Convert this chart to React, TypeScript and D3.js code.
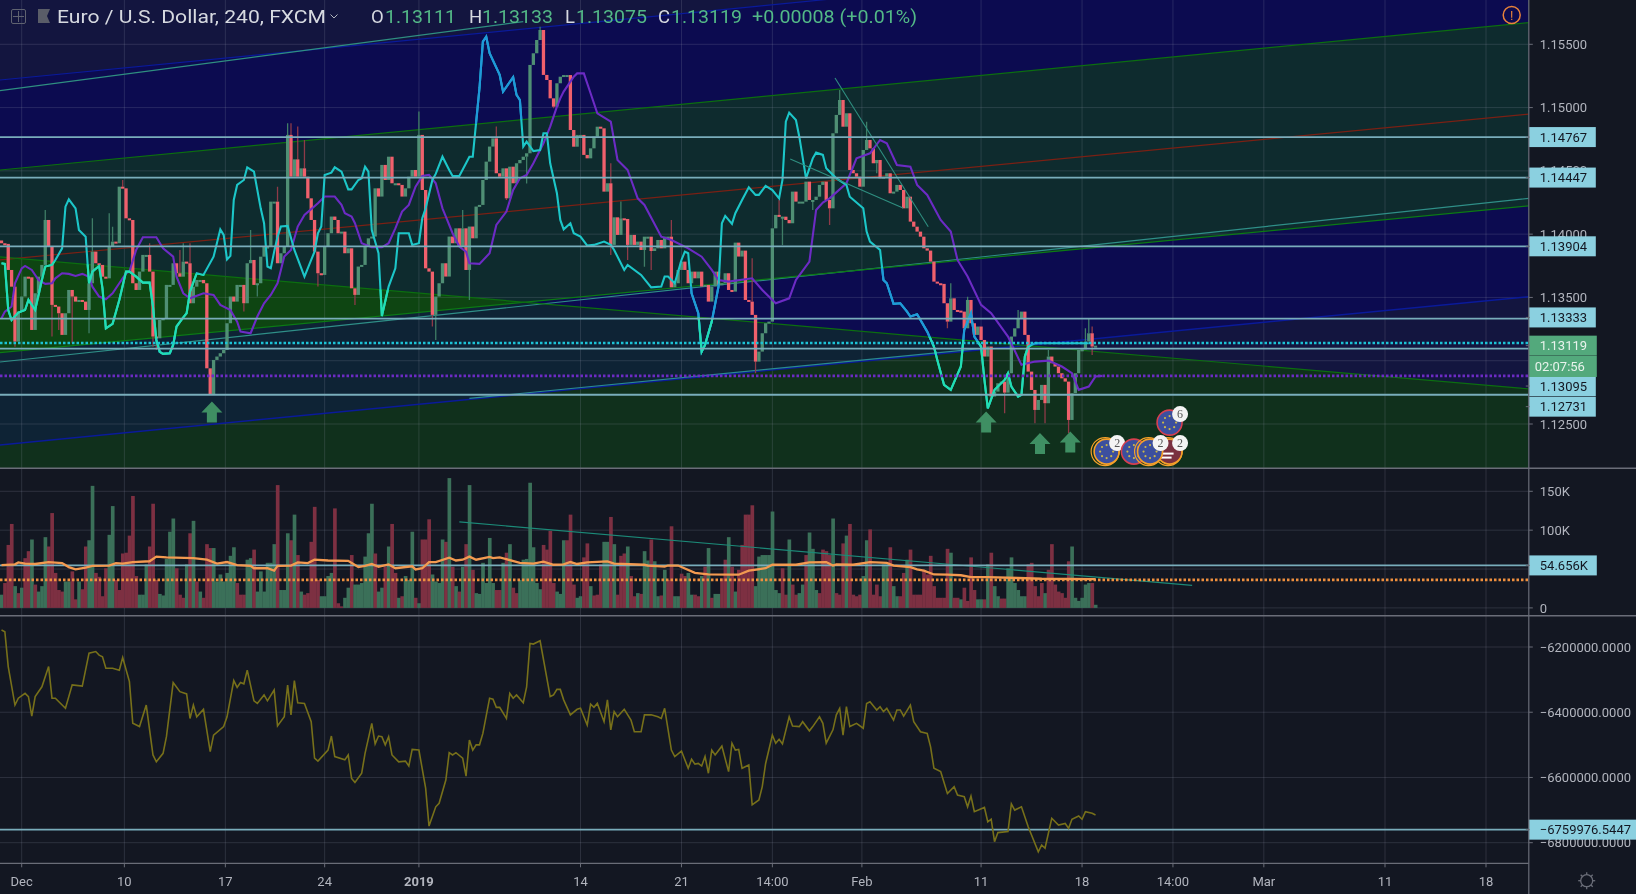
import React from 'react';
import * as d3 from 'd3';

// 4h closes, one per bar (open = previous close)
const closes = [
  1.13928,1.13923,1.13717,1.13585,1.13151,1.13388,1.13507,1.13664,1.13659,1.13243,
  1.13533,1.13664,1.13757,1.14112,1.13902,1.13441,1.13428,1.13375,1.13204,1.13375,
  1.13559,1.13507,1.13467,1.1348,1.13467,1.13401,1.13612,1.13862,1.1377,1.13757,
  1.13664,1.13651,1.13902,1.13941,1.13928,1.14375,1.14362,1.14125,1.14112,1.13612,
  1.13559,1.13704,1.13836,1.13836,1.13704,1.13191,1.13177,1.13322,1.13335,1.13599,
  1.13599,1.1377,1.13691,1.13664,1.13783,1.1377,1.13454,1.13585,1.13638,1.13638,
  1.13612,1.1294,1.1273,1.13006,1.13033,1.13059,1.13085,1.13296,1.13507,1.13467,
  1.13599,1.13599,1.13454,1.1377,1.13796,1.13599,1.13612,1.13822,1.13902,1.13902,
  1.14257,1.14257,1.1377,1.13849,1.13902,1.14784,1.14454,1.14591,1.14454,1.1452,
  1.14454,1.14283,1.14112,1.13862,1.13691,1.13678,1.13902,1.14007,1.14139,1.14112,
  1.14007,1.1402,1.13849,1.13888,1.13572,1.1352,1.13744,1.13757,1.13902,1.13967,
  1.13981,1.14362,1.14297,1.14547,1.14428,1.14612,1.14402,1.14402,1.14389,1.14297,
  1.14362,1.14454,1.14507,1.14454,1.14784,1.14349,1.1373,1.13704,1.13362,1.13507,
  1.13612,1.1377,1.13665,1.13981,1.13928,1.14046,1.13902,1.14046,1.13717,1.1406,
  1.13967,1.14218,1.14231,1.14428,1.14573,1.14692,1.14757,1.14481,1.14454,1.1452,
  1.14283,1.14533,1.14402,1.1456,1.14586,1.14612,1.14639,1.15337,1.15429,1.15534,
  1.15613,1.15258,1.15218,1.15073,1.15007,1.15192,1.15244,1.15257,1.15257,1.14823,
  1.14691,1.14784,1.14784,1.14626,1.14599,1.14678,1.1477,1.14849,1.14836,1.14336,
  1.14402,1.13915,1.14133,1.13994,1.14125,1.1412,1.13915,1.13994,1.13915,1.13941,
  1.13875,1.1398,1.1398,1.13867,1.13888,1.13954,1.13888,1.1398,1.1398,1.1358,
  1.13612,1.13717,1.13783,1.13717,1.13612,1.13704,1.13651,1.13704,1.13586,1.13599,
  1.13467,1.13586,1.13704,1.13599,1.13612,1.13691,1.13559,1.13546,1.13933,1.13823,
  1.1387,1.1348,1.13467,1.13362,1.12993,1.13072,1.13217,1.13296,1.13309,1.14046,
  1.14152,1.14138,1.14138,1.14112,1.14086,1.14336,1.14257,1.14257,1.14257,1.14415,
  1.1427,1.1427,1.14296,1.14389,1.14415,1.1427,1.14204,1.14797,1.14942,1.1506,
  1.14849,1.14955,1.14507,1.14481,1.14454,1.14375,1.14665,1.14744,1.14678,1.1456,
  1.14586,1.14441,1.14454,1.14481,1.14323,1.14336,1.14389,1.14349,1.14204,1.14296,
  1.14099,1.14059,1.1402,1.1398,1.13888,1.1387,1.13783,1.13625,1.13612,1.13607,
  1.13454,1.13309,1.13493,1.13401,1.13396,1.13388,1.13256,1.1348,1.13296,1.13204,
  1.1327,1.13164,1.13033,1.13112,1.12717,1.12756,1.12822,1.12835,1.12748,1.12901,
  1.13191,1.13256,1.13335,1.13388,1.13204,1.12914,1.12769,1.12611,1.1269,1.12809,
  1.12664,1.13033,1.1298,1.12954,1.12901,1.12861,1.12835,1.12532,1.12743,1.12901,
  1.13085,1.1309,1.13151,1.13217,1.13112,1.13119,
];
const firstOpen = 1.1395;

const wickHighs = [
  [13,1.14191],[27,1.14125],[32,1.14165],[33,1.14059],[36,1.14428],[44,1.13928],[53,1.13875],[54,1.13928],
  [56,1.13928],[74,1.14033],[82,1.14375],[85,1.14876],[86,1.14876],[88,1.1485],[90,1.14744],[124,1.1497],
  [137,1.14191],[147,1.1485],[160,1.15639],[181,1.1456],[184,1.14257],[199,1.14112],[223,1.13809],[231,1.1427],
  [249,1.15139],[257,1.14889],[282,1.13612],[287,1.13506],[302,1.134],[311,1.13085],[322,1.13256],[323,1.13335],[324,1.1327],
];
const wickLows = [
  [4,1.13111],[15,1.13191],[17,1.13243],[21,1.13138],[26,1.13217],[45,1.13111],[46,1.13085],[72,1.13388],
  [76,1.13507],[94,1.13586],[105,1.13441],[128,1.1327],[129,1.13164],[139,1.1348],[150,1.1427],[156,1.144],
  [164,1.14994],[181,1.13836],[186,1.13796],[191,1.13743],[193,1.13717],[224,1.12901],[232,1.13915],[241,1.14191],
  [246,1.14073],[260,1.14481],[281,1.13256],[294,1.1269],[298,1.12585],[307,1.12506],[310,1.12506],[317,1.12427],[324,1.13046],
];

const cyanLine = [
  [0,1.1377],[1,1.13765],[2,1.13401],[3,1.13322],[5,1.1338],[7,1.13401],[8,1.1348],[10,1.13401],[12,1.13638],[13,1.13744],
  [15,1.13757],[16,1.13796],[18,1.13888],[19,1.14217],[20,1.14275],[22,1.14204],[23,1.14033],[25,1.1398],[26,1.13612],[27,1.13704],
  [29,1.13749],[30,1.13572],[31,1.13256],[33,1.13291],[35,1.1348],[37,1.13704],[38,1.13704],[40,1.13664],[42,1.13617],[44,1.13617],
  [45,1.13428],[46,1.13164],[47,1.1307],[48,1.13054],[50,1.13059],[51,1.13125],[52,1.1327],[54,1.13343],[55,1.13375],[56,1.13546],
  [58,1.13691],[60,1.13678],[63,1.13822],[65,1.14038],[66,1.13994],[67,1.138],[68,1.13828],[69,1.1427],[70,1.14389],[72,1.14428],
  [73,1.14528],[75,1.14494],[77,1.14204],[78,1.14086],[79,1.13744],[80,1.13731],[81,1.13862],[82,1.1398],[83,1.1406],[85,1.14065],
  [87,1.13875],[90,1.13665],[92,1.13796],[93,1.13862],[94,1.14007],[95,1.1406],[96,1.14468],[98,1.14486],[99,1.14528],[101,1.14494],
  [103,1.14354],[104,1.14354],[106,1.14428],[107,1.14441],[108,1.14533],[109,1.14494],[110,1.14033],[112,1.13849],[113,1.13354],[115,1.13586],
  [117,1.1373],[118,1.14007],[121,1.14007],[122,1.13915],[124,1.13928],[125,1.14125],[126,1.14204],[128,1.14428],[129,1.14476],[131,1.14612],
  [133,1.14507],[134,1.1446],[136,1.1446],[138,1.1456],[139,1.14612],[140,1.14612],[142,1.15155],[143,1.15521],[144,1.1556],[145,1.15429],
  [148,1.15258],[149,1.15126],[152,1.1524],[153,1.151],[154,1.1506],[155,1.14691],[156,1.14731],[158,1.14657],[160,1.14665],[161,1.14797],
  [162,1.14797],[163,1.1456],[165,1.14323],[166,1.14112],[167,1.14038],[169,1.14086],[170,1.14007],[172,1.1398],[174,1.13909],[176,1.13915],
  [179,1.13941],[181,1.13915],[182,1.13875],[185,1.13717],[186,1.13757],[190,1.13678],[193,1.1358],[196,1.13586],[197,1.13665],[198,1.13665],
  [200,1.13612],[202,1.13796],[203,1.13862],[204,1.13849],[205,1.13533],[207,1.13375],[208,1.13072],[209,1.13125],[211,1.13309],[213,1.13586],
  [214,1.14086],[215,1.14144],[217,1.14081],[218,1.14165],[220,1.1427],[222,1.1437],[224,1.1431],[225,1.1431],[227,1.14381],[229,1.14349],
  [231,1.14283],[232,1.14428],[233,1.14889],[234,1.1496],[236,1.14902],[237,1.1477],[239,1.14441],[241,1.14599],[242,1.14644],[244,1.14626],
  [245,1.1452],[248,1.14441],[251,1.14389],[252,1.14296],[256,1.14204],[257,1.1402],[258,1.13941],[261,1.13875],[262,1.13638],[263,1.13612],
  [265,1.13449],[267,1.13454],[269,1.13388],[270,1.13349],[272,1.13367],[275,1.1323],[277,1.13112],[278,1.13006],[280,1.1281],[282,1.1277],
  [285,1.12954],[286,1.13243],[288,1.13375],[289,1.13191],[291,1.13112],[292,1.12848],[293,1.12624],[294,1.12696],[295,1.1277],[298,1.12848],
  [299,1.12901],[300,1.12796],[302,1.12717],[303,1.1273],[304,1.13033],[305,1.13112],[307,1.13138],[323,1.13138],
];

const purpleLine = [
  [0,1.13335],[1,1.13388],[3,1.13428],[4,1.13612],[6,1.1373],[7,1.13749],[9,1.13717],[11,1.13638],[13,1.13607],[15,1.13612],
  [16,1.13651],[18,1.13691],[20,1.13686],[22,1.1367],[24,1.13686],[26,1.13664],[27,1.13585],[29,1.13507],[31,1.13486],[33,1.13533],
  [35,1.13612],[37,1.13691],[38,1.13704],[40,1.13875],[42,1.13975],[46,1.13975],[48,1.13888],[51,1.13822],[52,1.13664],[54,1.13533],
  [56,1.13493],[60,1.13533],[63,1.1352],[65,1.13441],[68,1.13401],[70,1.13309],[71,1.1323],[74,1.13217],[76,1.13349],[78,1.13454],
  [80,1.1352],[82,1.13612],[83,1.13717],[84,1.13823],[86,1.13875],[88,1.1406],[90,1.14152],[94,1.14244],[96,1.14297],[99,1.14297],
  [101,1.14231],[102,1.14165],[104,1.14139],[105,1.14086],[107,1.13928],[110,1.13896],[113,1.13896],[115,1.13928],[117,1.14046],[119,1.14178],
  [121,1.14231],[123,1.14375],[125,1.1446],[127,1.14468],[129,1.14402],[131,1.14204],[132,1.14139],[134,1.14007],[136,1.13902],[138,1.13862],
  [139,1.1377],[142,1.13765],[145,1.13849],[147,1.14073],[150,1.14178],[152,1.14349],[154,1.14441],[156,1.14468],[158,1.1456],[161,1.14718],
  [163,1.14849],[165,1.15007],[166,1.15073],[167,1.15126],[170,1.15244],[171,1.1527],[173,1.1527],[175,1.15113],[177,1.14955],[181,1.14889],
  [183,1.14586],[186,1.14507],[189,1.14283],[191,1.14231],[196,1.1398],[199,1.13954],[204,1.13888],[208,1.13822],[211,1.13717],[213,1.13638],
  [216,1.13625],[223,1.13651],[226,1.13559],[230,1.13454],[234,1.13493],[236,1.13638],[240,1.13783],[242,1.14191],[244,1.14249],[246,1.14283],
  [251,1.14402],[254,1.14599],[258,1.14639],[261,1.14744],[263,1.14718],[266,1.14547],[270,1.14533],[272,1.14389],[275,1.1431],[279,1.14112],
  [282,1.1402],[284,1.13796],[287,1.13665],[291,1.13441],[294,1.13375],[299,1.13191],[303,1.12967],[307,1.12993],[311,1.13001],[315,1.12954],
  [318,1.12901],[320,1.1277],[323,1.12796],[325,1.12875],[327,1.1288],
];

// volume in thousands, direction g/r per bar
const volumes = [
  17,32,81,108,28,19,26,64,73,88,30,21,28,91,79,122,45,23,21,34,
  34,47,11,34,24,79,87,157,45,40,15,51,94,131,36,23,70,71,93,144,
  41,17,17,56,79,134,36,18,16,63,98,115,51,17,13,56,96,112,34,21,
  13,82,77,77,34,43,34,45,67,78,32,17,17,62,64,75,21,47,21,58,
  58,82,158,23,23,96,87,120,68,21,17,19,85,130,36,15,15,41,45,128,
  6,2,13,26,68,30,30,32,66,96,134,70,21,26,53,79,108,45,13,15,
  41,36,98,13,6,88,88,114,43,34,32,88,85,167,53,28,21,53,82,158,
  49,19,18,58,32,90,32,23,23,58,71,82,26,19,36,62,63,161,78,32,
  24,81,75,99,32,21,18,87,87,120,30,13,15,65,83,28,16,17,56,85,
  85,117,82,17,67,70,79,41,15,19,18,73,61,88,60,15,16,49,36,105,
  15,15,44,41,45,17,17,15,41,53,77,13,18,18,38,62,91,53,21,49,
  81,120,120,132,28,66,68,68,68,124,23,19,51,17,88,30,17,19,30,68,
  97,76,23,19,75,73,68,115,19,17,83,93,108,17,15,17,41,87,101,17,
  30,15,56,56,78,28,15,15,45,62,75,17,17,17,49,43,67,28,13,13,
  13,76,71,13,13,11,26,9,65,23,11,11,11,56,71,28,15,12,12,51,
  65,32,23,15,15,56,58,28,15,32,19,49,82,30,21,19,13,60,79,13,
  9,13,30,32,32,4,
];
const volumeDirs =
  'grrrgrgrrg' + 'rgggrrrrrg' + 'grrgrrggrr' + 'rrggrrrrrr' + 'rgggrrrggg' + 'ggrrrgrgrg' + 'rrrggggggg' + 'rrrggrgggg' +
  'ggrgggrgrg' + 'rrrrrggggr' + 'rrggrggggg' + 'grggrgrrgr' + 'gggrgrrrgg' + 'ggrgrgrgrg' + 'rggggggrrg' + 'rgrrgggggg' +
  'grrrrgggrr' + 'rggrrgrrrg' + 'grgrrrgrrg' + 'rggrggrgrr' + 'ggrrggrrgr' + 'grggrrgrgr' + 'rrrrgggggg' + 'ggrrgrrggr' +
  'gggrrrrgrr' + 'rgrrrrggrr' + 'rrggrggrrg' + 'rrrrrrrrrr' + 'rrgrrgrrrr' + 'ggrgrggrrg' + 'gggggrrrrr' + 'grrrrrrrgg' + 'ggggrg';

const volumeMA = [
  [0,55],[4,56],[5,58.5],[7,57],[10,56.5],[14,59],[18,57.6],[20,52.5],[22,49.5],[25,51.7],[27,54],[32,54.5],[34,57.6],[36,57],
  [39,59],[44,60],[46,66],[49,65],[57,64],[61,62],[64,57],[67,59],[70,55],[74,54],[75,51],[79,51],[81,48],[82,54],[86,54.5],
  [88,58.5],[91,57.6],[93,62],[97,61],[103,60.5],[106,52.5],[108,54],[110,56.5],[112,53],[115,56],[117,51],[122,53.5],[123,49.5],
  [125,51],[127,59],[129,59],[133,64.5],[135,61],[137,62],[139,66],[141,62],[145,65.5],[146,64],[148,65],[154,58],[158,57],
  [161,59.6],[164,55.5],[167,56],[169,59],[171,56.5],[174,58.6],[180,59.9],[182,57],[191,55.5],[192,54.5],[197,53],[198,54.5],
  [201,54.5],[206,45],[210,43],[217,42.7],[219,42.7],[222,48],[227,51],[229,55.5],[233,55.5],[236,55.5],[240,58.5],[245,59],
  [247,54.5],[248,56],[253,55.5],[258,59],[263,58],[265,54.5],[270,52.5],[272,49.5],[274,48],[277,43],[281,42.7],[285,42],
  [288,39.7],[293,39.7],[309,37.5],[325,37],
];

// lower pane, values in thousands
const oscillator = [
  [0,-6148],[1,-6153],[2,-6260],[4,-6378],[5,-6357],[7,-6342],[8,-6352],[9,-6412],[10,-6352],[12,-6322],[14,-6260],[15,-6357],[16,-6357],
  [19,-6388],[21,-6316],[24,-6320],[26,-6219],[28,-6214],[29,-6225],[30,-6230],[31,-6265],[33,-6265],[35,-6271],[36,-6232],[38,-6306],
  [39,-6434],[41,-6444],[43,-6378],[45,-6531],[46,-6552],[48,-6526],[49,-6475],[51,-6309],[53,-6337],[55,-6344],[56,-6419],[57,-6378],
  [58,-6414],[60,-6391],[62,-6521],[63,-6470],[66,-6444],[67,-6414],[69,-6303],[70,-6324],[71,-6309],[72,-6313],[73,-6271],[75,-6365],
  [76,-6373],[78,-6347],[79,-6365],[81,-6332],[82,-6442],[84,-6414],[85,-6317],[86,-6408],[87,-6303],[88,-6371],[90,-6373],[92,-6429],
  [93,-6541],[94,-6550],[97,-6516],[98,-6473],[99,-6536],[102,-6546],[103,-6531],[104,-6603],[105,-6615],[107,-6587],[108,-6526],[110,-6434],
  [111,-6497],[112,-6473],[113,-6475],[114,-6500],[115,-6475],[116,-6531],[118,-6552],[120,-6550],[121,-6565],[122,-6514],[124,-6516],
  [126,-6633],[127,-6749],[129,-6690],[130,-6679],[132,-6608],[133,-6524],[134,-6531],[135,-6524],[137,-6541],[138,-6596],[139,-6485],
  [140,-6516],[141,-6500],[142,-6500],[143,-6465],[145,-6357],[146,-6360],[147,-6385],[148,-6385],[150,-6419],[151,-6342],[152,-6357],
  [153,-6347],[155,-6371],[156,-6322],[157,-6189],[158,-6191],[160,-6181],[163,-6352],[164,-6347],[165,-6330],[166,-6330],[167,-6362],
  [169,-6408],[171,-6391],[172,-6388],[174,-6439],[175,-6375],[176,-6385],[177,-6373],[179,-6429],[180,-6362],[181,-6454],[182,-6398],
  [183,-6414],[185,-6391],[187,-6424],[188,-6460],[190,-6460],[191,-6408],[193,-6408],[195,-6414],[196,-6419],[197,-6388],[199,-6516],
  [200,-6536],[202,-6519],[204,-6572],[205,-6544],[206,-6559],[207,-6557],[208,-6565],[209,-6536],[210,-6587],[211,-6516],[212,-6531],
  [214,-6504],[216,-6582],[217,-6495],[218,-6516],[219,-6514],[220,-6572],[222,-6562],[223,-6684],[225,-6669],[226,-6628],[227,-6557],
  [229,-6470],[230,-6495],[231,-6483],[232,-6497],[234,-6414],[235,-6442],[237,-6444],[238,-6429],[240,-6457],[241,-6444],[243,-6414],
  [244,-6434],[245,-6495],[247,-6454],[248,-6408],[249,-6388],[250,-6470],[251,-6383],[252,-6444],[254,-6434],[256,-6449],[257,-6373],
  [258,-6368],[260,-6393],[261,-6383],[262,-6398],[263,-6388],[265,-6424],[266,-6393],[267,-6393],[268,-6412],[270,-6378],[271,-6429],
  [273,-6460],[275,-6465],[276,-6506],[277,-6572],[279,-6582],[281,-6649],[283,-6628],[284,-6654],[286,-6659],[287,-6690],[288,-6657],
  [289,-6705],[292,-6692],[293,-6736],[294,-6728],[295,-6797],[296,-6769],[299,-6766],[300,-6681],[301,-6700],[303,-6690],[305,-6751],
  [308,-6828],[309,-6807],[310,-6817],[312,-6725],[314,-6746],[316,-6741],[317,-6756],[318,-6728],[320,-6718],[321,-6728],[322,-6705],
  [324,-6710],[325,-6715],
];

// drawn tools: bar0, price0, bar1, price1
const channelTop = [-0.45, 1.15218, 453.7, 1.16395];
const channelTopTeal = [-0.45, 1.15134, 155, 1.15679];
const upperGreen = [-0.45, 1.14507, 453.7, 1.15671];
const midRed = [-0.45, 1.13796, 453.7, 1.14949];
const lowerGreen = [-0.45, 1.13064, 453.7, 1.14223];
const lowerTeal = [-0.45, 1.1299, 453.7, 1.14283];
const lowerBlue = [-0.45, 1.12335, 453.7, 1.13506];
const lowerBlueTeal = [139, 1.12702, 293, 1.13102];
const fallingGreen = [-0.45, 1.1382, 453.7, 1.12777];
const shortTrends = [
  [247.6, 1.15234, 275.3, 1.14059],
  [234.3, 1.14594, 267.8, 1.14207],
];
const volumeTrend = [136, 110.7, 353.7, 29];

const priceTicks = [1.155, 1.15, 1.145, 1.14, 1.135, 1.13, 1.125];
const priceTickLabels = ['1.15500', '1.15000', '1.14500', '1.14000', '1.13500', '', '1.12500'];
const priceLevels = [1.14767, 1.14447, 1.13904, 1.13333, 1.13095, 1.12731];
const levelTags = ['1.14767', '1.14447', '1.13904', '1.13333', '1.13095', '1.12731'];
const levelTagPrices = [1.14767, 1.14447, 1.13904, 1.13342, 1.128, 1.12637];
const cyanLevel = 1.1314;
const purpleLevel = 1.1288;
const volumeTicks = [150, 100, 50, 0];
const volumeTickLabels = ['150K', '100K', '', '0'];
const volumeLevel = 54.656;
const volumeDotted = 36;
const oscTicks = [-6200, -6400, -6600, -6800];
const oscTickLabels = ['\u22126200000.0000', '\u22126400000.0000', '\u22126600000.0000', '\u22126800000.0000'];
const oscLevel = -6759.9765;

const timeTickBars = [6, 36.5, 66.5, 96, 124, 172, 202, 229, 255.6, 291, 321, 348, 375, 411, 441];
const timeTickLabels = ['Dec', '10', '17', '24', '2019', '14', '21', '14:00', 'Feb', '11', '18', '14:00', 'Mar', '11', '18'];

const arrowBars = [62.5, 292.5, 308.5, 317.5];
const arrowPrices = [1.12677, 1.12598, 1.12429, 1.1244];
const eventBars = [347, 328.3, 336.4, 341.2, 347];
const eventPrices = [1.12282, 1.12282, 1.12282, 1.12282, 1.12511];
const eventRings = ['#f5a02a', '#f5a02a', '#d8404f', '#f5a02a', '#d8404f'];
const eventCounts = ['2', '2', '', '2', '6'];

const W = 1636;
const H = 894;
const paneRight = 1528.8;
const mainBottom = 468.3;
const volTop = 468.3;
const volBottom = 615.7;
const oscBottom = 863.3;

const x = d3.scaleLinear().domain([0, 441]).range([1.5, 1486]);
const yPrice = d3.scaleLinear().domain([1.1585, 1.125]).range([0, 424]);
const yVol = d3.scaleLinear().domain([0, 150]).range([607.9, 491.3]);
const yOsc = d3.scaleLinear().domain([-6200, -6800]).range([647, 842.7]);

const priceLine = d3.line<number[]>().x(d => x(d[0])).y(d => yPrice(d[1]));
const volLine = d3.line<number[]>().x(d => x(d[0])).y(d => yVol(d[1]));
const oscLine = d3.line<number[]>().x(d => x(d[0])).y(d => yOsc(d[1]));

const FONT = 'Roboto, "Liberation Sans", sans-serif';
const GRID = 'rgba(150,155,175,0.2)';
const LEVEL = '#79adbb';
const TAG = '#8bd0e0';
const TAG_GREEN = '#53a97c';
const AXIS = '#6a6d78';
const AXIS_TEXT = '#b2b5be';

// polygon between two drawn lines
const band = (a: number[], b: number[]) =>
  `${x(a[0])},${yPrice(a[1])} ${x(a[2])},${yPrice(a[3])} ${x(b[2])},${yPrice(b[3])} ${x(b[0])},${yPrice(b[1])}`;
const belowLine = (a: number[]) =>
  `${x(a[0])},${yPrice(a[1])} ${x(a[2])},${yPrice(a[3])} ${x(a[2])},${mainBottom} ${x(a[0])},${mainBottom}`;

const Bands = ({ base, navy, teal, lower }: { base: string; navy: string; teal: string; lower: string }) => (
  <g>
    <rect x={0} y={0} width={paneRight} height={mainBottom} fill={base} />
    <polygon points={band(channelTop, upperGreen)} fill={navy} />
    <polygon points={band(upperGreen, lowerGreen)} fill={teal} />
    <polygon points={band(lowerGreen, lowerBlue)} fill={lower} />
  </g>
);

const TrendLine = ({ d, stroke, w = 1.2 }: { d: number[]; stroke: string; w?: number }) => (
  <line x1={x(d[0])} y1={yPrice(d[1])} x2={x(d[2])} y2={yPrice(d[3])} stroke={stroke} strokeWidth={w} />
);

const Tag = ({ y, text, fill = TAG, color = '#131722', width = 67 }: any) => (
  <g>
    <rect x={paneRight} y={y - 10} width={width} height={20} fill={fill} />
    <line x1={paneRight - 3} x2={paneRight + 1} y1={y} y2={y} stroke={AXIS} />
    <text x={paneRight + 11} y={y + 4.6} fontSize={13} fill={color}>{text}</text>
  </g>
);

const EventIcon = ({ i }: { i: number }) => {
  const cx = x(eventBars[i]);
  const cy = yPrice(eventPrices[i]);
  const stars = d3.range(8).map(k => (k * Math.PI) / 4);
  const isFlag = i === 0;
  return (
    <g>
      <circle cx={cx} cy={cy} r={12.5} fill={isFlag ? '#7a3040' : '#3c4f9e'} stroke={eventRings[i]} strokeWidth={1.6} />
      {eventRings[i] === '#f5a02a' && <circle cx={cx - 1.5} cy={cy} r={14} fill="none" stroke={eventRings[i]} strokeWidth={1.2} />}
      {!isFlag && stars.map((a, k) => (
        <circle key={k} cx={cx + 6.5 * Math.cos(a)} cy={cy + 6.5 * Math.sin(a)} r={1.1} fill="#c9b64a" />
      ))}
      {isFlag && (
        <g>
          <rect x={cx - 13} y={cy + 1} width={17} height={2} fill="#fff" />
          <rect x={cx - 11} y={cy + 5} width={13} height={2} fill="#fff" />
        </g>
      )}
      {eventCounts[i] && (
        <g>
          <circle cx={cx + 10.5} cy={cy - 8.5} r={8} fill="#f4f4f4" />
          <text x={cx + 10.5} y={cy - 4.3} fontSize={12} textAnchor="middle" fill="#555">{eventCounts[i]}</text>
        </g>
      )}
    </g>
  );
};

export default function App() {
  const opens = closes.map((_, i) => (i === 0 ? firstOpen : closes[i - 1]));
  const bodyW = 3.3;
  const barW = x(1) - x(0);

  const mainLayer = (
    <g clipPath="url(#mainClip)">
      <Bands base="#13153f" navy="#0c0b50" teal="#0e2b2e" lower="#0c0b50" />
      <g clipPath="url(#belowFalling)">
        <Bands base="#10301c" navy="#0c0b50" teal="#0e4512" lower="#0e2335" />
      </g>
      {/* grid */}
      {timeTickBars.map((b, i) => <line key={i} x1={x(b)} x2={x(b)} y1={0} y2={mainBottom} stroke={GRID} />)}
      {priceTicks.map((p, i) => <line key={i} x1={0} x2={paneRight} y1={yPrice(p)} y2={yPrice(p)} stroke={GRID} />)}

      {/* channels */}
      <TrendLine d={channelTop} stroke="#0a1a9a" />
      <TrendLine d={channelTopTeal} stroke="#2f8f80" />
      <TrendLine d={upperGreen} stroke="#0c6e10" />
      <TrendLine d={midRed} stroke="#7a2014" />
      <TrendLine d={lowerTeal} stroke="#2f8f88" />
      <TrendLine d={lowerGreen} stroke="#0c7a14" />
      <TrendLine d={lowerBlue} stroke="#0a1a9a" w={1.5} />
      <TrendLine d={lowerBlueTeal} stroke="#2a8a90" />
      <TrendLine d={fallingGreen} stroke="#0c6e10" />

      {/* candles */}
      {wickHighs.map((w, k) => {
        const i = w[0];
        const up = closes[i] >= opens[i];
        return <line key={k} x1={x(i)} x2={x(i)} y1={yPrice(w[1])} y2={yPrice(Math.max(opens[i], closes[i]))} stroke={up ? '#3f7d66' : '#8e3a48'} strokeWidth={1.3} />;
      })}
      {wickLows.map((w, k) => {
        const i = w[0];
        const up = closes[i] >= opens[i];
        return <line key={k} x1={x(i)} x2={x(i)} y1={yPrice(w[1])} y2={yPrice(Math.min(opens[i], closes[i]))} stroke={up ? '#3f7d66' : '#8e3a48'} strokeWidth={1.3} />;
      })}
      {closes.map((c, i) => {
        const o = opens[i];
        const up = c >= o;
        const top = yPrice(Math.max(o, c));
        const h = Math.max(2, Math.abs(yPrice(o) - yPrice(c)));
        return <rect key={i} x={x(i) - bodyW / 2} y={top} width={bodyW} height={h} fill={up ? '#4f8f74' : '#f0606c'} />;
      })}

      {/* indicators */}
      <path d={priceLine(purpleLine) || ''} fill="none" stroke="#6c2bc4" strokeWidth={2.1} />
      <path d={priceLine(cyanLine) || ''} fill="none" stroke="#1cc6c8" strokeWidth={2.1} />
      <g clipPath="url(#navyClip)">
        <path d={priceLine(cyanLine) || ''} fill="none" stroke="#1f98da" strokeWidth={2.1} />
      </g>
      <g clipPath="url(#belowFalling)">
        <path d={priceLine(cyanLine) || ''} fill="none" stroke="#22dfb2" strokeWidth={2.1} />
      </g>

      {shortTrends.map((d, i) => <TrendLine key={i} d={d} stroke="#2f8f80" w={1.1} />)}

      {/* horizontal levels */}
      {priceLevels.map((p, i) => <line key={i} x1={0} x2={paneRight} y1={yPrice(p)} y2={yPrice(p)} stroke={LEVEL} strokeWidth={1.8} />)}
      <line x1={0} x2={paneRight} y1={yPrice(cyanLevel)} y2={yPrice(cyanLevel)} stroke="#1cc3d6" strokeWidth={2.6} strokeDasharray="2.5 2" />
      <line x1={0} x2={paneRight} y1={yPrice(purpleLevel)} y2={yPrice(purpleLevel)} stroke="#6c2bc4" strokeWidth={2.6} strokeDasharray="2.5 2" />

      {arrowBars.map((b, i) => {
        const cx = x(b);
        const t = yPrice(arrowPrices[i]);
        return <path key={i} d={`M${cx},${t} L${cx + 10.5},${t + 11} L${cx + 5},${t + 11} L${cx + 5},${t + 21} L${cx - 5},${t + 21} L${cx - 5},${t + 11} L${cx - 10.5},${t + 11} Z`} fill="#3f8f63" />;
      })}
      {eventBars.map((_, i) => <EventIcon key={i} i={i} />)}
    </g>
  );

  const volLayer = (
    <g clipPath="url(#volClip)">
      {timeTickBars.map((b, i) => <line key={i} x1={x(b)} x2={x(b)} y1={volTop} y2={volBottom} stroke={GRID} />)}
      {volumeTicks.map((v, i) => <line key={i} x1={0} x2={paneRight} y1={yVol(v)} y2={yVol(v)} stroke={GRID} />)}
      {volumes.map((v, i) => (
        <rect key={i} x={x(i) - barW / 2} y={yVol(v)} width={barW + 0.3} height={yVol(0) - yVol(v)} fill={volumeDirs[i] === 'g' ? '#3b7059' : '#7d3042'} />
      ))}
      <line x1={x(volumeTrend[0])} y1={yVol(volumeTrend[1])} x2={x(volumeTrend[2])} y2={yVol(volumeTrend[3])} stroke="#1c8a78" strokeWidth={1.2} />
      <line x1={0} x2={paneRight} y1={yVol(volumeLevel)} y2={yVol(volumeLevel)} stroke={LEVEL} strokeWidth={1.6} />
      <line x1={0} x2={paneRight} y1={yVol(volumeDotted)} y2={yVol(volumeDotted)} stroke="#f0903e" strokeWidth={2.6} strokeDasharray="2.5 2" />
      <path d={volLine(volumeMA) || ''} fill="none" stroke="#f39a50" strokeWidth={2.3} />
    </g>
  );

  const oscLayer = (
    <g>
      {timeTickBars.map((b, i) => <line key={i} x1={x(b)} x2={x(b)} y1={volBottom} y2={oscBottom} stroke={GRID} />)}
      {oscTicks.map((v, i) => <line key={i} x1={0} x2={paneRight} y1={yOsc(v)} y2={yOsc(v)} stroke={GRID} />)}
      <line x1={0} x2={paneRight} y1={yOsc(oscLevel)} y2={yOsc(oscLevel)} stroke={LEVEL} strokeWidth={1.6} />
      <path d={oscLine(oscillator) || ''} fill="none" stroke="#77701a" strokeWidth={1.6} />
    </g>
  );

  const header = (
    <g fontFamily={FONT} fontSize={18.5}>
      <rect x={11.5} y={9.5} width={14} height={14} rx={1.5} fill="none" stroke="#5f6270" />
      <path d="M18.5 11 V22 M13 16.5 H24" stroke="#5f6270" />
      <path d="M38 9 H50 L47 16 L50 23 H38 Z" fill="#5a5d68" />
      <text x={57} y={22.5} fill="#d6d9e0" textLength={269} lengthAdjust="spacingAndGlyphs">Euro / U.S. Dollar, 240, FXCM</text>
      <path d="M330.5 14.5 L334 18 L337.5 14.5" fill="none" stroke="#b2b5be" />
      <text x={371} y={22.5} fill="#d6d9e0">O</text>
      <text x={385} y={22.5} fill="#53b987" textLength={71} lengthAdjust="spacingAndGlyphs">1.13111</text>
      <text x={469} y={22.5} fill="#d6d9e0">H</text>
      <text x={482} y={22.5} fill="#53b987" textLength={71} lengthAdjust="spacingAndGlyphs">1.13133</text>
      <text x={565} y={22.5} fill="#d6d9e0">L</text>
      <text x={576} y={22.5} fill="#53b987" textLength={71} lengthAdjust="spacingAndGlyphs">1.13075</text>
      <text x={658} y={22.5} fill="#d6d9e0">C</text>
      <text x={671} y={22.5} fill="#53b987" textLength={71} lengthAdjust="spacingAndGlyphs">1.13119</text>
      <text x={752} y={22.5} fill="#53b987" textLength={165} lengthAdjust="spacingAndGlyphs">+0.00008 (+0.01%)</text>
      <circle cx={1511.7} cy={15} r={8.5} fill="none" stroke="#e8833a" strokeWidth={1.5} />
      <text x={1511.7} y={20} fontSize={13} textAnchor="middle" fill="#e8833a">!</text>
    </g>
  );

  const rightAxis = (
    <g fontFamily={FONT} fontSize={13} fill={AXIS_TEXT}>
      <rect x={paneRight} y={0} width={W - paneRight} height={H} fill="#131722" />
      {priceTicks.map((p, i) => (
        <g key={i}>
          <line x1={paneRight} x2={paneRight + 4} y1={yPrice(p)} y2={yPrice(p)} stroke={AXIS} />
          <text x={paneRight + 11} y={yPrice(p) + 4.6}>{priceTickLabels[i]}</text>
        </g>
      ))}
      {levelTags.map((t, i) => <Tag key={i} y={yPrice(levelTagPrices[i])} text={t} />)}
      <Tag y={yPrice(1.13119)} text="1.13119" fill={TAG_GREEN} color="#e8f3ec" width={68} />
      <rect x={paneRight} y={356} width={68} height={21} fill={TAG_GREEN} />
      <text x={paneRight + 6} y={371} fill="#e8f3ec">02:07:56</text>
      {volumeTicks.map((v, i) => (
        <g key={i}>
          <line x1={paneRight} x2={paneRight + 4} y1={yVol(v)} y2={yVol(v)} stroke={AXIS} />
          <text x={paneRight + 11} y={yVol(v) + 4.6}>{volumeTickLabels[i]}</text>
        </g>
      ))}
      <Tag y={yVol(volumeLevel)} text="54.656K" width={68} />
      {oscTicks.map((v, i) => (
        <g key={i}>
          <line x1={paneRight} x2={paneRight + 4} y1={yOsc(v)} y2={yOsc(v)} stroke={AXIS} />
          <text x={paneRight + 11} y={yOsc(v) + 4.6}>{oscTickLabels[i]}</text>
        </g>
      ))}
      <Tag y={yOsc(oscLevel)} text={'\u22126759976.5447'} width={W - paneRight} />
    </g>
  );

  const timeAxis = (
    <g fontFamily={FONT} fontSize={13} fill={AXIS_TEXT} textAnchor="middle">
      {timeTickBars.map((b, i) => (
        <g key={i}>
          <line x1={x(b)} x2={x(b)} y1={oscBottom} y2={oscBottom + 4} stroke={AXIS} />
          <text x={x(b)} y={886} fontWeight={timeTickLabels[i] === '2019' ? 700 : 400}>{timeTickLabels[i]}</text>
        </g>
      ))}
    </g>
  );

  return (
    <svg
      width={W}
      height={H}
      viewBox={`0 0 ${W} ${H}`}
      style={{ position: 'fixed', left: 0, top: 0, background: '#131722', filter: 'blur(0.7px)' }}
    >
      <defs>
        <clipPath id="mainClip"><rect x={0} y={0} width={paneRight} height={mainBottom} /></clipPath>
        <clipPath id="volClip"><rect x={0} y={volTop} width={paneRight} height={volBottom - volTop} /></clipPath>
        <clipPath id="belowFalling"><polygon points={belowLine(fallingGreen)} /></clipPath>
        <clipPath id="navyClip">
          <polygon points={band(channelTop, upperGreen)} />
          <polygon points={band(lowerGreen, lowerBlue)} />
        </clipPath>
      </defs>
      {mainLayer}
      {volLayer}
      {oscLayer}
      {header}
      {rightAxis}
      {timeAxis}
      <line x1={0} x2={W} y1={mainBottom} y2={mainBottom} stroke={AXIS} strokeWidth={1.5} />
      <line x1={0} x2={W} y1={volBottom} y2={volBottom} stroke={AXIS} strokeWidth={1.5} />
      <line x1={0} x2={paneRight} y1={oscBottom} y2={oscBottom} stroke={AXIS} strokeWidth={1.2} />
      <line x1={paneRight} x2={paneRight} y1={0} y2={H} stroke={AXIS} strokeWidth={1.2} />
      <g fill="none" stroke="#6a6d78" strokeWidth={1.3}>
        <circle cx={1586.7} cy={880.7} r={6} />
        {d3.range(8).map(k => {
          const a = (k * Math.PI) / 4;
          return <line key={k} x1={1586.7 + 6 * Math.cos(a)} y1={880.7 + 6 * Math.sin(a)} x2={1586.7 + 8.5 * Math.cos(a)} y2={880.7 + 8.5 * Math.sin(a)} />;
        })}
      </g>
    </svg>
  );
}
